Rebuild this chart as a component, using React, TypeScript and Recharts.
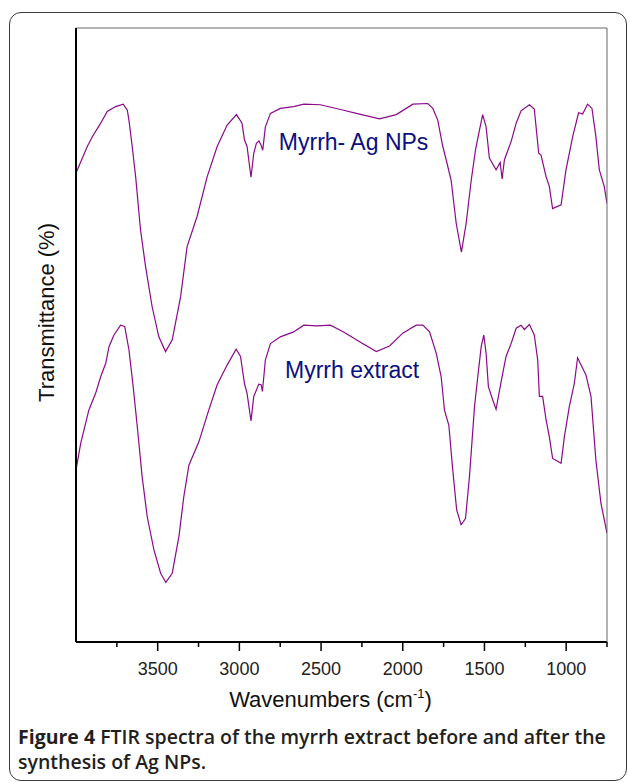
import React from "react";
import { LineChart, Line, XAxis, YAxis, Label, ReferenceDot } from "recharts";

// wavenumber (cm-1) / transmittance
const agWavenumbers = [4000, 3931, 3900, 3849, 3809, 3757, 3711, 3686, 3676, 3656, 3635, 3605, 3574, 3534, 3493, 3452, 3411, 3360, 3320, 3259, 3197, 3136, 3075, 3018, 2984, 2969, 2953, 2929, 2912, 2896, 2880, 2867, 2857, 2841, 2810, 2749, 2668, 2606, 2504, 2362, 2284, 2142, 2040, 1938, 1847, 1816, 1786, 1755, 1734, 1704, 1673, 1641, 1612, 1581, 1555, 1535, 1511, 1490, 1470, 1429, 1404, 1392, 1378, 1337, 1306, 1276, 1225, 1195, 1168, 1154, 1123, 1103, 1083, 1031, 1001, 960, 924, 899, 869, 842, 818, 797, 767, 750];
const agValues = [76.4, 80.7, 82.3, 84.5, 86.4, 87.2, 87.6, 86.6, 85.0, 80.7, 75.8, 67.1, 61.1, 54.6, 49.7, 47.3, 49.2, 56.2, 64.4, 69.3, 75.8, 80.7, 84.2, 85.9, 84.5, 81.8, 80.7, 75.7, 79.6, 81.2, 81.6, 80.9, 80.1, 83.9, 86.1, 86.9, 87.2, 87.6, 87.5, 86.6, 86.1, 85.2, 85.9, 87.6, 87.7, 86.9, 85.0, 80.7, 78.5, 75.2, 68.2, 63.5, 68.2, 75.2, 80.1, 82.8, 85.9, 83.9, 78.8, 76.9, 78.1, 75.4, 78.5, 81.5, 84.5, 86.5, 87.5, 86.8, 79.6, 79.3, 75.8, 74.2, 70.6, 71.2, 76.9, 82.3, 86.2, 86.0, 87.6, 86.9, 82.3, 76.9, 74.2, 71.4];

const extractWavenumbers = [4000, 3971, 3921, 3880, 3849, 3818, 3798, 3768, 3727, 3702, 3676, 3650, 3625, 3595, 3564, 3523, 3482, 3450, 3411, 3370, 3340, 3309, 3248, 3187, 3136, 3075, 3020, 2993, 2969, 2953, 2929, 2912, 2881, 2867, 2859, 2841, 2810, 2749, 2668, 2606, 2525, 2443, 2362, 2264, 2162, 2081, 2000, 1918, 1877, 1836, 1795, 1765, 1745, 1718, 1694, 1670, 1643, 1616, 1592, 1561, 1541, 1520, 1504, 1490, 1476, 1453, 1429, 1398, 1368, 1337, 1306, 1276, 1256, 1225, 1195, 1174, 1164, 1144, 1123, 1103, 1083, 1031, 1011, 981, 950, 930, 899, 879, 848, 818, 787, 750];
const extractValues = [28.0, 32.4, 37.8, 40.5, 43.2, 45.4, 48.1, 50.0, 51.6, 51.4, 47.6, 41.6, 35.1, 26.9, 20.4, 15.0, 11.2, 9.7, 11.2, 17.2, 23.7, 28.8, 32.6, 37.8, 41.9, 45.1, 47.7, 46.5, 42.1, 40.5, 36.0, 40.0, 42.0, 41.9, 40.8, 45.9, 48.6, 49.7, 50.5, 51.6, 51.5, 51.6, 50.5, 48.9, 47.3, 48.2, 50.3, 51.6, 51.6, 50.5, 47.0, 43.2, 37.8, 35.3, 28.0, 21.5, 19.1, 20.1, 26.9, 38.3, 43.2, 48.1, 50.0, 47.0, 41.6, 39.7, 37.9, 42.4, 46.5, 48.6, 51.1, 51.6, 50.9, 51.7, 50.0, 45.9, 40.0, 40.0, 36.2, 33.4, 29.9, 29.1, 33.4, 38.3, 42.1, 46.3, 44.6, 43.5, 40.0, 29.6, 22.6, 17.7];

const majorTicks = [3500, 3000, 2500, 2000, 1500, 1000];
const minorTicks = [3750, 3250, 2750, 2250, 1750, 1250, 750];
const allTicks = [...majorTicks, ...minorTicks].sort((a, b) => b - a);

const seriesNames = ["Myrrh- Ag NPs", "Myrrh extract"];
const labelSpots = [
  { wn: 2301, t: 80.1 },
  { wn: 2310, t: 43.0 },
];

const agData = agWavenumbers.map((wn, i) => ({ wn, t: agValues[i] }));
const extractData = extractWavenumbers.map((wn, i) => ({ wn, t: extractValues[i] }));

const PURPLE = "#8a0a8a";
const NAVY = "#0b0f80";
const FONT = "Liberation Sans, Arial, sans-serif";

function SeriesLabel(props: any) {
  return (
    <text x={props.cx} y={props.cy} textAnchor="middle" fill={NAVY} fontSize={23} fontFamily={FONT}>
      {props.text}
    </text>
  );
}

function WaveTick(props: any) {
  const { x, y, payload } = props;
  const major = majorTicks.includes(payload.value);
  return (
    <g>
      <line x1={x} y1={y} x2={x} y2={y + (major ? 9 : 5)} stroke="#000" strokeWidth={1.5} />
      {major && (
        <text x={x} y={y + 33} textAnchor="middle" fill="#222" fontSize={18} fontFamily={FONT}>
          {payload.value}
        </text>
      )}
    </g>
  );
}

export default function App() {
  return (
    <div style={{ position: "absolute", left: 0, top: 0, width: 629, height: 783, background: "#fff", overflow: "hidden" }}>
      <div style={{ position: "absolute", left: 9, top: 12, width: 616, height: 767, border: "1.5px solid #3a3a3a", borderRadius: 12 }} />
      <div style={{ position: "absolute", left: 0, top: 0 }}>
        <LineChart width={629} height={720} margin={{ top: 27, right: 21, bottom: 48, left: 75 }}>
          <XAxis type="number" dataKey="wn" domain={[750, 4000]} reversed allowDataOverflow ticks={allTicks} interval={0} tickSize={0} tickMargin={0} height={30}
            axisLine={{ stroke: "#000", strokeWidth: 2 }} tickLine={false} tick={<WaveTick />}>
            <Label content={({ viewBox }: any) => (
              <text x={viewBox.x + viewBox.width / 2 - 11} y={707} textAnchor="middle" fill="#111" fontSize={22} fontFamily={FONT}>
                Wavenumbers (cm<tspan dy={-9} fontSize={13}>-1</tspan><tspan dy={9}>)</tspan>
              </text>
            )} />
          </XAxis>
          <XAxis xAxisId="top" orientation="top" type="number" dataKey="wn" domain={[750, 4000]} reversed allowDataOverflow tick={false} tickLine={false} height={1} axisLine={{ stroke: "#666", strokeWidth: 1 }} />
          <YAxis type="number" domain={[0, 100]} width={1} tick={false} tickLine={false} axisLine={{ stroke: "#000", strokeWidth: 2 }}>
            <Label content={() => (
              <text x={53.5} y={312.5} transform="rotate(-90 53.5 312.5)" textAnchor="middle" fill="#111" fontSize={22} fontFamily={FONT}>
                Transmittance (%)
              </text>
            )} />
          </YAxis>
          <YAxis yAxisId="right" orientation="right" type="number" domain={[0, 100]} width={1} tick={false} tickLine={false} axisLine={{ stroke: "#666", strokeWidth: 1 }} />
          <Line data={agData} dataKey="t" type="linear" stroke={PURPLE} strokeWidth={1.2} dot={false} isAnimationActive={false} />
          <Line data={extractData} dataKey="t" type="linear" stroke={PURPLE} strokeWidth={1.2} dot={false} isAnimationActive={false} />
          {labelSpots.map((s, i) => (
            <ReferenceDot key={i} x={s.wn} y={s.t} r={0} shape={(p: any) => <SeriesLabel {...p} text={seriesNames[i]} />} />
          ))}
        </LineChart>
      </div>
      <div style={{ position: "absolute", left: 18, top: 724, width: 610, fontFamily: "'Open Sans', sans-serif", fontWeight: 600, fontSize: 19.5, lineHeight: "25px", color: "#231f20", whiteSpace: "nowrap" }}>
        <div><b style={{ fontWeight: 700 }}>Figure 4</b> FTIR spectra of the myrrh extract before and after the</div>
        <div>synthesis of Ag NPs.</div>
      </div>
    </div>
  );
}
